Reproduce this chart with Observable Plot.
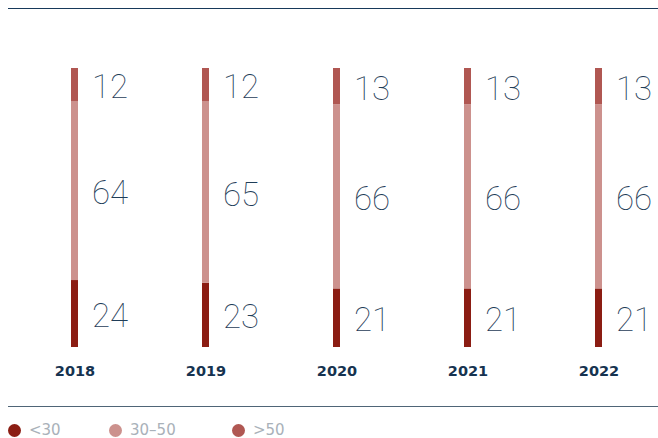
<!DOCTYPE html>
<html>
<head>
<meta charset="utf-8">
<script src="https://cdn.jsdelivr.net/npm/d3@7"></script>
<script src="https://cdn.jsdelivr.net/npm/@observablehq/plot@0.6"></script>
<style>
  html, body { margin: 0; padding: 0; background: #fff; }
  #wrap { position: relative; width: 658px; height: 438px; overflow: hidden; }
  .rule { position: absolute; left: 8px; width: 650px; height: 1px; }
  #legend { position: absolute; left: 8px; top: 423px; display: flex;
            font-family: "DejaVu Sans", sans-serif; font-size: 15px; line-height: 15px; color: #a9b1b9; }
  #legend .item { display: flex; align-items: center; gap: 8px; }
  #legend .dot { width: 13px; height: 13px; border-radius: 50%; display: inline-block; }
</style>
</head>
<body>
<div id="wrap">
  <div class="rule" style="top:8px;background:#17395a;"></div>
  <div id="chart"></div>
  <div class="rule" style="top:406px;background:#4f6577;"></div>
  <div id="legend"></div>
</div>
<script>
const years = ["2018", "2019", "2020", "2021", "2022"];
const groups = ["<30", "30–50", ">50"];
const colors = ["#8b1d13", "#cc918d", "#b05752"];
const under30 = [24, 23, 21, 21, 21];
const from30to50 = [64, 65, 66, 66, 66];
const over50 = [12, 12, 13, 13, 13];

const series = [under30, from30to50, over50];
const data = [];
years.forEach((yr, i) => {
  groups.forEach((g, j) => data.push({year: yr, group: g, value: series[j][i]}));
});

const chart = Plot.plot({
  width: 658,
  height: 400,
  marginTop: 68,
  marginBottom: 53,
  marginLeft: 69.5,
  marginRight: 55,
  style: {background: "transparent", overflow: "visible"},
  x: {type: "band", domain: years, paddingInner: 0.947, paddingOuter: 0, label: null},
  y: {domain: [0, 100], axis: null},
  color: {domain: groups, range: colors},
  marks: [
    Plot.barY(data, Plot.stackY({x: "year", y: "value", fill: "group", order: groups})),
    Plot.text(data, Plot.stackY({
      x: "year", y: "value", z: "group", order: groups, text: d => String(d.value),
      textAnchor: "start", dx: 17, dy: 2.5,
      fontSize: 33, fontWeight: 100, fill: "#1f3d58",
      fontFamily: "Roboto"
    })),
    Plot.axisX({tickSize: 0, tickPadding: 18, fontSize: 14.5, fontWeight: "bold",
      fill: "#163350", fontFamily: "DejaVu Sans", label: null})
  ]
});
document.getElementById("chart").appendChild(chart);

const widths = [101, 123, 100];
const legend = document.getElementById("legend");
groups.forEach((g, j) => {
  const item = document.createElement("div");
  item.className = "item";
  item.style.width = widths[j] + "px";
  const dot = document.createElement("span");
  dot.className = "dot";
  dot.style.background = colors[j];
  const label = document.createElement("span");
  label.textContent = g;
  item.appendChild(dot);
  item.appendChild(label);
  legend.appendChild(item);
});
</script>
</body>
</html>
